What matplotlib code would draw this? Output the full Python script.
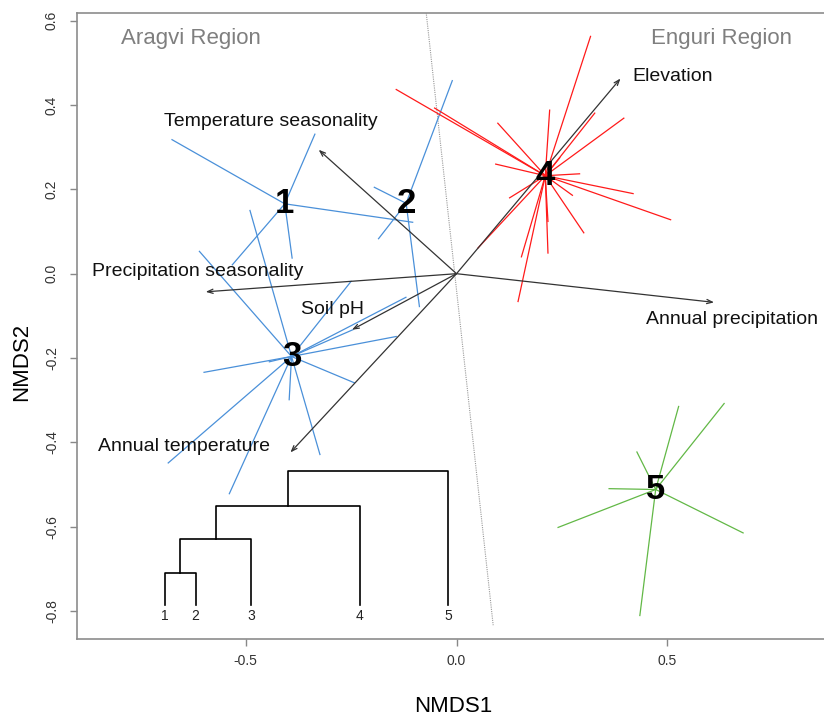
import numpy as np
import matplotlib
matplotlib.use("Agg")
import matplotlib.pyplot as plt

plt.rcParams['font.family'] = ['Liberation Sans', 'DejaVu Sans']
plt.rcParams['axes.unicode_minus'] = False

# sites of each cluster (NMDS1, NMDS2)
sites1_x = [-0.675, -0.336, -0.104, -0.390, -0.532]
sites1_y = [0.318, 0.331, 0.122, 0.037, 0.021]
sites2_x = [-0.010, -0.195, -0.185, -0.088]
sites2_y = [0.458, 0.205, 0.083, -0.078]
sites3_x = [-0.610, -0.490, -0.250, -0.120, -0.246, -0.143, -0.242,
            -0.324, -0.397, -0.539, -0.684, -0.599, -0.444]
sites3_y = [0.053, 0.150, -0.018, -0.056, -0.133, -0.149, -0.259,
            -0.429, -0.299, -0.522, -0.449, -0.234, -0.209]
sites4_x = [0.318, -0.143, -0.052, 0.098, 0.221, 0.328, 0.397, 0.093, 0.292, 0.419,
            0.508, 0.275, 0.302, 0.217, 0.154, 0.146, 0.126, 0.051, 0.245, 0.217]
sites4_y = [0.563, 0.437, 0.393, 0.357, 0.388, 0.381, 0.369, 0.260, 0.237, 0.190,
            0.128, 0.186, 0.097, 0.049, 0.040, -0.066, 0.180, 0.061, 0.275, 0.124]
sites5_x = [0.527, 0.635, 0.428, 0.362, 0.241, 0.680, 0.435]
sites5_y = [-0.315, -0.308, -0.423, -0.510, -0.602, -0.615, -0.811]

cluster_names = ['1', '2', '3', '4', '5']
cluster_colors = ['#4a90d9', '#4a90d9', '#4a90d9', '#ff1a1a', '#62b846']

# envfit vectors
env_names = ['Temperature seasonality', 'Precipitation seasonality', 'Soil pH',
             'Annual temperature', 'Elevation', 'Annual precipitation']
env_x = [-0.327, -0.595, -0.248, -0.394, 0.389, 0.611]
env_y = [0.294, -0.043, -0.133, -0.424, 0.463, -0.068]

# dividing line between regions
boundary_x = [-0.072, 0.087]
boundary_y = [0.62, -0.834]

# dendrogram of the clusters (drawn inside the plot)
dendro_labels = ['1', '2', '3', '4', '5']
dendro_leaf_x = [-0.692, -0.619, -0.488, -0.229, -0.019]
dendro_base = -0.785
dendro_merges = [(0, 1, -0.710), (5, 2, -0.629), (6, 3, -0.550), (7, 4, -0.467)]

fig = plt.figure(figsize=(8.24, 7.15), dpi=100)
ax = fig.add_axes([77 / 824, 76 / 715, 758 / 824, 626 / 715])
ax.set_xlim(-0.9004, 0.898)
ax.set_ylim(-0.8667, 0.6185)

# spiders
sites = [(sites1_x, sites1_y), (sites2_x, sites2_y), (sites3_x, sites3_y),
         (sites4_x, sites4_y), (sites5_x, sites5_y)]
for (sx, sy), name, col in zip(sites, cluster_names, cluster_colors):
    cx, cy = np.mean(sx), np.mean(sy)
    for px, py in zip(sx, sy):
        ax.plot([cx, px], [cy, py], color=col, lw=0.9, zorder=2)
    ax.text(cx, cy, name, fontsize=25, fontweight='bold', ha='center', va='center', zorder=5)

# boundary
ax.plot(boundary_x, boundary_y, color='#999999', lw=0.8, ls=(0, (1, 1)), zorder=1)

# env arrows
label_pos = [(-0.440, 0.361), (-0.614, 0.005), (-0.294, -0.084),
             (-0.646, -0.410), (0.512, 0.468), (0.653, -0.109)]
for name, ex, ey, (lx, ly) in zip(env_names, env_x, env_y, label_pos):
    ax.annotate('', xy=(ex, ey), xytext=(0, 0),
                arrowprops=dict(arrowstyle='->,head_length=0.4,head_width=0.15',
                                color='#333333', lw=0.9, shrinkA=0, shrinkB=0),
                zorder=3)
    ax.text(lx, ly, name, fontsize=14, ha='center', va='center', color='#111111', zorder=4)

# dendrogram
node_x = list(dendro_leaf_x)
node_h = [dendro_base] * len(dendro_leaf_x)
for a, b, h in dendro_merges:
    ax.plot([node_x[a], node_x[a], node_x[b], node_x[b]],
            [node_h[a], h, h, node_h[b]], color='black', lw=1.2, zorder=3)
    node_x.append((node_x[a] + node_x[b]) / 2)
    node_h.append(h)
for lab, x in zip(dendro_labels, dendro_leaf_x):
    ax.text(x, dendro_base - 0.028, lab, fontsize=10, ha='center', va='center', color='#222222')

# region labels
ax.text(-0.629, 0.559, 'Aragvi Region', fontsize=16, color='#7f7f7f', ha='center', va='center')
ax.text(0.629, 0.559, 'Enguri Region', fontsize=16, color='#7f7f7f', ha='center', va='center')

ax.set_xticks([-0.5, 0.0, 0.5])
ax.set_xticklabels(['-0.5', '0.0', '0.5'])
yt = [-0.8, -0.6, -0.4, -0.2, 0.0, 0.2, 0.4, 0.6]
ax.set_yticks(yt)
ax.set_yticklabels(['%.1f' % v for v in yt], rotation=90, va='center')
ax.tick_params(colors='#888888', labelcolor='#333333', length=5, width=1, labelsize=10)
ax.tick_params(axis='x', pad=6)
ax.tick_params(axis='y', pad=8)
for s in ax.spines.values():
    s.set_color('#8c8c8c')
    s.set_linewidth(1.2)

ax.set_xlabel('NMDS1', fontsize=16)
ax.set_ylabel('NMDS2', fontsize=16)
ax.xaxis.set_label_coords(453 / 824, 1 - 706 / 715, transform=fig.transFigure)
ax.yaxis.set_label_coords(21.7 / 824, 1 - 362 / 715, transform=fig.transFigure)
ax.xaxis.label.set_va('center')
ax.yaxis.label.set_va('center')

fig.savefig('out.png', dpi=100)
